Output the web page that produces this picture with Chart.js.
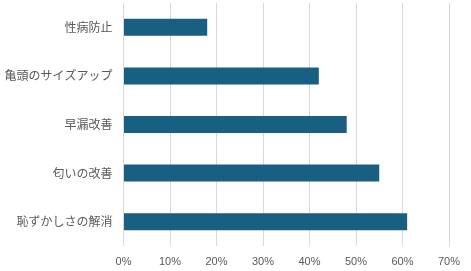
<!DOCTYPE html>
<html>
<head>
<meta charset="utf-8">
<script src="https://cdn.jsdelivr.net/npm/chart.js@4"></script>
<style>
  html, body { margin: 0; padding: 0; background: #fff; }
  #wrap { width: 471px; height: 271px; }
</style>
</head>
<body>
<div id="wrap"><canvas id="barchart"></canvas></div>
<script>
const categorias = ["性病防止", "亀頭のサイズアップ", "早漏改善", "匂いの改善", "恥ずかしさの解消"];
const valores = [18, 42, 48, 55, 61];
const xMax = 70;
const xStep = 10;

const ctx = document.getElementById("barchart").getContext("2d");
new Chart(ctx, {
    type: "bar",
    data: {
        labels: categorias,
        datasets: [{
            data: valores,
            backgroundColor: "#185f82",
            barPercentage: 0.7,
            categoryPercentage: 0.5
        }]
    },
    options: {
        indexAxis: "y",
        responsive: true,
        maintainAspectRatio: false,
        animation: false,
        layout: { padding: { top: 3, right: 22, left: 0, bottom: 3 } },
        plugins: { legend: { display: false }, tooltip: { enabled: false } },
        scales: {
            x: {
                min: 0,
                max: xMax,
                ticks: {
                    stepSize: xStep,
                    color: "#595959",
                    font: { family: "'Liberation Sans', Arial, sans-serif", size: 11 },
                    padding: 9,
                    callback: v => v + "%"
                },
                grid: { color: "#d9d9d9", drawTicks: false },
                border: { display: false },
                afterFit: s => { s.height = 22; }
            },
            y: {
                ticks: {
                    color: "#595959",
                    font: { family: "'Noto Sans CJK JP', sans-serif", size: 12 },
                    padding: 11
                },
                grid: { display: false, drawTicks: false },
                border: { display: false },
                // largura fixa do eixo e sem folga extra em cima/baixo
                afterFit: s => { s.width = 123.5; s.paddingTop = 0; s.paddingBottom = 0; }
            }
        }
    }
});
</script>
</body>
</html>
